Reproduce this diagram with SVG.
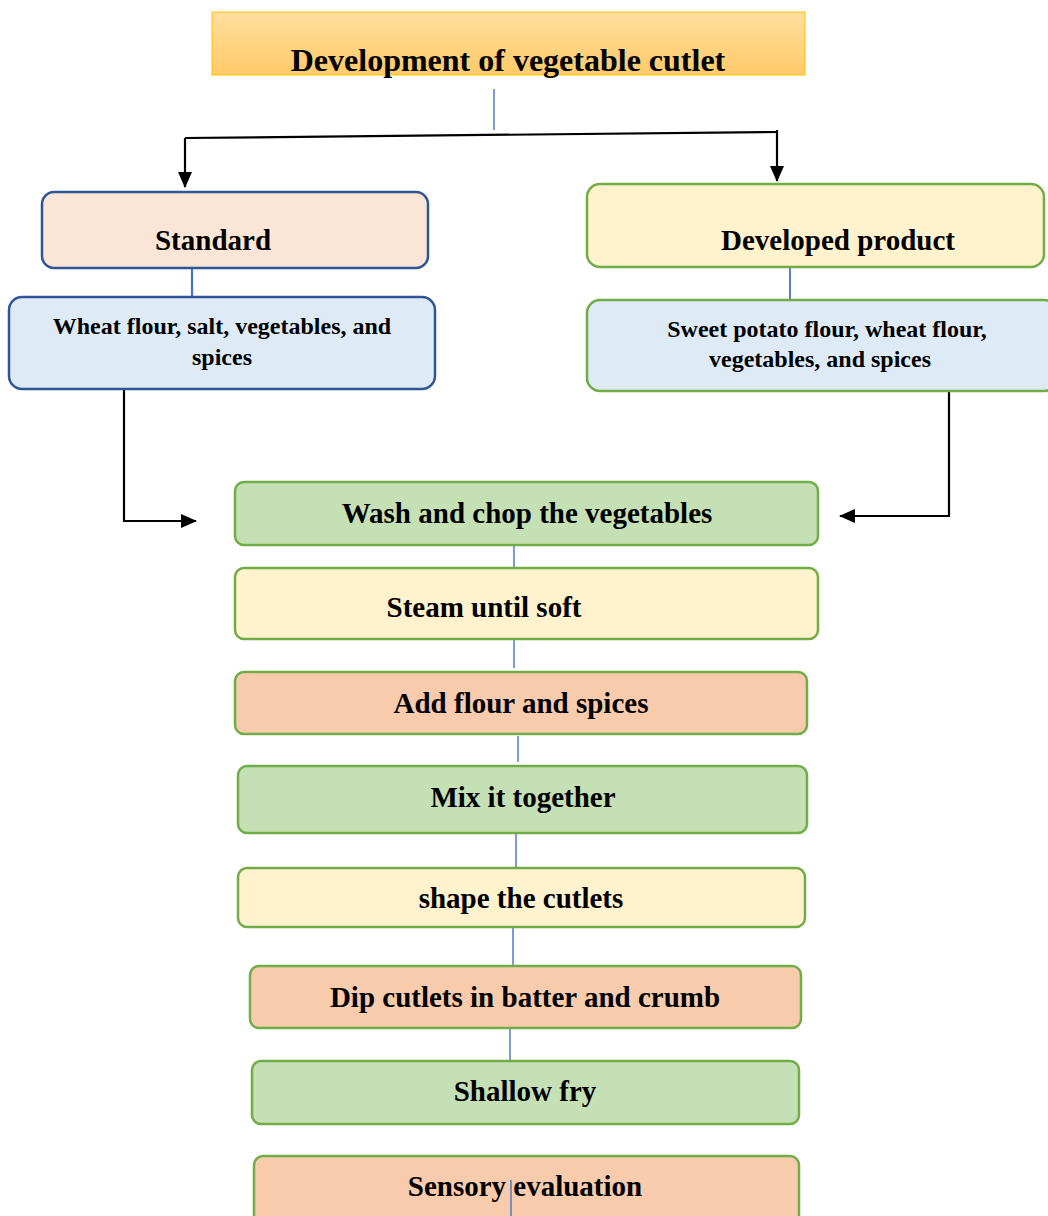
<svg xmlns="http://www.w3.org/2000/svg" width="1048" height="1216" viewBox="0 0 1048 1216">
  <style>
    .t { font-family: "Liberation Serif", "Times New Roman", serif; font-weight: bold; fill: #000; text-anchor: middle; }
    .h { font-size: 29px; }
    .s { font-size: 24px; }
    .title { font-size: 32px; }
    .box { stroke-width: 2.5; }
    .g { stroke: #70AD47; }
    .b { stroke: #2F5597; }
    .green { fill: #C5E0B4; }
    .cream { fill: #FFF2CC; }
    .peach { fill: #F8CBAD; }
    .pink { fill: #FBE5D6; }
    .blue { fill: #DEEBF7; }
    .link { stroke: #4472C4; stroke-width: 1.4; fill: none; }
    .arrow { stroke: #000; stroke-width: 2.2; fill: none; }
  </style>
  <defs>
    <linearGradient id="titleFill" x1="0" y1="0" x2="0" y2="1">
      <stop offset="0" stop-color="#FFDE9E"/>
      <stop offset="1" stop-color="#FFCA68"/>
    </linearGradient>
    <marker id="head" viewBox="0 0 16 16" refX="15" refY="8" markerWidth="16" markerHeight="16" markerUnits="userSpaceOnUse" orient="auto">
      <path d="M0,1 L16,8 L0,15 Z" fill="#000"/>
    </marker>
  </defs>

  <rect width="1048" height="1216" fill="#fff"/>

  <!-- connectors -->
  <g id="connectors">
    <line class="link" x1="494" y1="89" x2="494" y2="130"/>
    <path class="arrow" d="M185,138 L778,132"/>
    <path class="arrow" d="M185,138 L185,187" marker-end="url(#head)"/>
    <path class="arrow" d="M777,130 L777,181" marker-end="url(#head)"/>
    <line class="link" x1="192" y1="256" x2="192" y2="296" style="stroke-width:2.2"/>
    <line class="link" x1="790" y1="262" x2="790" y2="300" style="stroke-width:1.8"/>
    <path class="arrow" d="M124,388 L124,521 L196,521" marker-end="url(#head)"/>
    <path class="arrow" d="M949,391 L949,516 L840,516" marker-end="url(#head)"/>
    <line class="link" x1="514" y1="537" x2="514" y2="567"/>
    <line class="link" x1="514" y1="640" x2="514" y2="668"/>
    <line class="link" x1="518" y1="736" x2="518" y2="762"/>
    <line class="link" x1="516" y1="834" x2="516" y2="868"/>
    <line class="link" x1="513" y1="928" x2="513" y2="966"/>
    <line class="link" x1="510" y1="1029" x2="510" y2="1061"/>
  </g>

  <!-- title -->
  <g id="title">
    <rect x="212" y="12" width="593" height="63" fill="url(#titleFill)" stroke="#FFC000" stroke-width="1"/>
    <text class="t title" x="508" y="71">Development of vegetable cutlet</text>
  </g>

  <g id="standard">
    <rect class="box b pink" x="42" y="192" width="386" height="76" rx="12"/>
    <text class="t h" x="213" y="250">Standard</text>
  </g>

  <g id="standard-ingredients">
    <rect class="box b blue" x="9" y="297" width="426" height="92" rx="13"/>
    <text class="t s" x="222" y="334">Wheat flour, salt, vegetables, and</text>
    <text class="t s" x="222" y="365">spices</text>
  </g>

  <g id="developed">
    <rect class="box g cream" x="587" y="184" width="457" height="83" rx="13"/>
    <text class="t h" x="838" y="250">Developed product</text>
  </g>

  <g id="developed-ingredients">
    <rect class="box g blue" x="587" y="300" width="470" height="91" rx="13"/>
    <text class="t s" x="827" y="337">Sweet potato flour, wheat flour,</text>
    <text class="t s" x="820" y="367">vegetables, and spices</text>
  </g>

  <g id="wash">
    <rect class="box g green" x="235" y="482" width="583" height="63" rx="9"/>
    <text class="t h" x="527" y="523">Wash and chop the vegetables</text>
  </g>

  <g id="steam">
    <rect class="box g cream" x="235" y="568" width="583" height="71" rx="9"/>
    <text class="t h" x="484" y="617">Steam until soft</text>
  </g>

  <g id="add-flour">
    <rect class="box g peach" x="235" y="672" width="572" height="62" rx="9"/>
    <text class="t h" x="521" y="713">Add flour and spices</text>
  </g>

  <g id="mix">
    <rect class="box g green" x="238" y="766" width="569" height="67" rx="9"/>
    <text class="t h" x="523" y="807">Mix it together</text>
  </g>

  <g id="shape">
    <rect class="box g cream" x="238" y="868" width="567" height="59" rx="9"/>
    <text class="t h" x="521" y="908">shape the cutlets</text>
  </g>

  <g id="dip">
    <rect class="box g peach" x="250" y="966" width="551" height="62" rx="9"/>
    <text class="t h" x="525" y="1007">Dip cutlets in batter and crumb</text>
  </g>

  <g id="fry">
    <rect class="box g green" x="252" y="1061" width="547" height="63" rx="9"/>
    <text class="t h" x="525" y="1101">Shallow fry</text>
  </g>

  <g id="sensory">
    <rect class="box g peach" x="254" y="1156" width="545" height="74" rx="9"/>
    <text class="t h" x="525" y="1196">Sensory evaluation</text>
    <line class="link" x1="511" y1="1180" x2="511" y2="1216"/>
  </g>
</svg>
